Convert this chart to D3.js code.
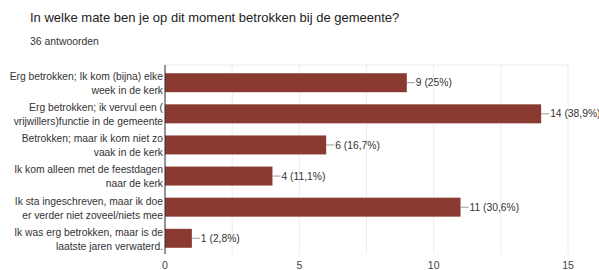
<!DOCTYPE html>
<html>
<head>
<meta charset="utf-8">
<script src="https://cdn.jsdelivr.net/npm/d3@7"></script>
<style>
  body { margin: 0; background: #fff; }
  svg { display: block; font-family: "Liberation Sans", Arial, sans-serif; }
</style>
</head>
<body>
<svg id="chart" width="599" height="270"></svg>
<script>
const categories = [
  ['Erg betrokken; Ik kom (bijna) elke', 'week in de kerk'],
  ['Erg betrokken; ik vervul een (', 'vrijwillers)functie in de gemeente'],
  ['Betrokken; maar ik kom niet zo', 'vaak in de kerk'],
  ['Ik kom alleen met de feestdagen', 'naar de kerk'],
  ['Ik sta ingeschreven, maar ik doe', 'er verder niet zoveel/niets mee'],
  ['Ik was erg betrokken, maar is de', 'laatste jaren verwaterd.']
]
const counts = [9, 14, 6, 4, 11, 1]
const percents = ['25%', '38,9%', '16,7%', '11,1%', '30,6%', '2,8%']
const ticks = [0, 5, 10, 15]
const grid = [0, 2.5, 5, 7.5, 10, 12.5, 15]

const svg = d3.select('#chart')

svg.append('text')
  .attr('x', 30).attr('y', 22)
  .attr('font-size', 13).attr('fill', '#222')
  .text('In welke mate ben je op dit moment betrokken bij de gemeente?')

svg.append('text')
  .attr('x', 30).attr('y', 45)
  .attr('font-size', 10.4).attr('fill', '#333')
  .text('36 antwoorden')

const margin = { top: 65, left: 165, right: 31, bottom: 17 }
const width = 599, height = 270

const x = d3.scaleLinear().domain([0, 15]).range([margin.left, width - margin.right])
const y = d3.scaleBand().domain(d3.range(categories.length))
  .range([67, 254]).paddingInner(0.39).paddingOuter(0.2)

// gridlines
svg.append('g').selectAll('line').data(grid).enter().append('line')
  .attr('x1', d => x(d)).attr('x2', d => x(d))
  .attr('y1', margin.top).attr('y2', 254)
  .attr('stroke', '#ececec')
svg.append('line')
  .attr('x1', x(0)).attr('x2', x(15))
  .attr('y1', margin.top).attr('y2', margin.top)
  .attr('stroke', '#ececec')

// bars
svg.append('g').selectAll('rect').data(counts).enter().append('rect')
  .attr('x', x(0))
  .attr('y', (d, i) => y(i))
  .attr('width', d => x(d) - x(0))
  .attr('height', y.bandwidth())
  .attr('fill', '#8b3a31')

// axis line
svg.append('line')
  .attr('x1', x(0)).attr('x2', x(0))
  .attr('y1', margin.top).attr('y2', 254)
  .attr('stroke', '#333')

// value labels with leader lines
const lab = svg.append('g').selectAll('g').data(counts).enter().append('g')
lab.append('line')
  .attr('x1', d => x(d)).attr('x2', d => x(d) + 8)
  .attr('y1', (d, i) => y(i) + y.bandwidth() / 2)
  .attr('y2', (d, i) => y(i) + y.bandwidth() / 2)
  .attr('stroke', '#999')
lab.append('text')
  .attr('x', d => x(d) + 9)
  .attr('y', (d, i) => y(i) + y.bandwidth() / 2)
  .attr('dy', '0.35em')
  .attr('font-size', 10.3).attr('fill', '#333')
  .text((d, i) => d + ' (' + percents[i] + ')')

// category labels
const cat = svg.append('g').selectAll('text').data(categories).enter().append('text')
  .attr('text-anchor', 'end')
  .attr('font-size', 10.3).attr('fill', '#333')
  .attr('y', (d, i) => y(i) + y.bandwidth() / 2)
cat.selectAll('tspan').data(d => d).enter().append('tspan')
  .attr('x', x(0) - 2)
  .attr('dy', (d, j) => j === 0 ? '-0.25em' : '1.35em')
  .text(d => d)

// x tick labels
svg.append('g').selectAll('text').data(ticks).enter().append('text')
  .attr('x', d => x(d)).attr('y', 269)
  .attr('text-anchor', 'middle')
  .attr('font-size', 10.5).attr('fill', '#444')
  .text(d => d)
</script>
</body>
</html>
